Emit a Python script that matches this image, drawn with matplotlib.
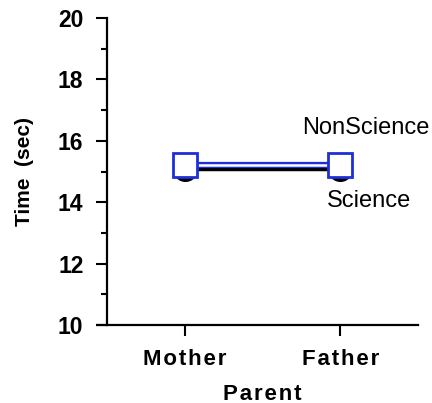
import matplotlib
matplotlib.use("Agg")
import matplotlib.pyplot as plt
from matplotlib.ticker import MultipleLocator

# data
parents = ["Mother", "Father"]
science = [15.08, 15.08]
nonscience = [15.22, 15.22]

plt.rcParams["font.family"] = ["Liberation Sans", "DejaVu Sans"]


def spaced(s):
    # letter-spaced labels like the original
    return "\u200a".join(s)


fig = plt.figure(figsize=(4.32, 4.03), dpi=100)
ax = fig.add_axes([0.2477, 0.1935, 0.72, 0.7618])

x = list(range(len(parents)))

# Science: black line + filled circles
ax.plot(x, science, color="black", lw=2.5, zorder=2)
ax.plot(x, science, "o", color="black", ms=17, zorder=3)

# NonScience: hollow blue line + open squares
ax.plot(x, nonscience, color="#1f2fd8", lw=4.5, zorder=4, solid_capstyle="butt")
ax.plot(x, nonscience, color="white", lw=1.8, zorder=5, solid_capstyle="butt")
ax.plot(x, nonscience, "s", mfc="white", mec="#1f2fd8", mew=2, ms=17, zorder=6)

ax.text(1.575, 16.42, "NonScience", fontsize=17, ha="right", va="center")
ax.text(0.915, 14.04, "Science", fontsize=17, ha="left", va="center")

ax.set_xlim(-0.5, 1.5)
ax.set_ylim(10, 20)
ax.set_xticks(x)
ax.set_xticklabels([spaced(p) for p in parents], fontsize=16, fontweight="bold")
ax.yaxis.set_major_locator(MultipleLocator(2))
ax.yaxis.set_minor_locator(MultipleLocator(1))
for lab in ax.get_yticklabels():
    lab.set_fontsize(16.5)
    lab.set_fontweight("bold")

ax.tick_params(axis="both", which="major", direction="out", length=8, width=1.5)
ax.tick_params(axis="y", which="major", pad=9)
ax.tick_params(axis="y", which="minor", direction="out", length=4.5, width=1.5)
ax.tick_params(axis="x", which="major", pad=9)

for side in ["top", "right"]:
    ax.spines[side].set_visible(False)
for side in ["left", "bottom"]:
    ax.spines[side].set_linewidth(1.6)

# bottom axis line extends a bit left of the y axis
ax.plot([-0.035, 0], [0, 0], transform=ax.transAxes, color="black", lw=1.6,
        clip_on=False, solid_capstyle="butt")

ax.set_xlabel(spaced("Parent"), fontsize=16, fontweight="bold", labelpad=10)
ax.set_ylabel("Time  (sec)", fontsize=15, fontweight="bold", labelpad=17)

fig.savefig("out.png", dpi=100)
